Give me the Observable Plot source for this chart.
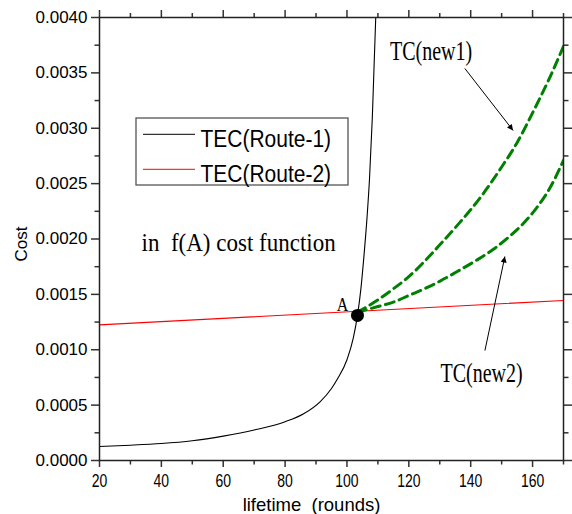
<!DOCTYPE html>
<html>
<head>
<meta charset="utf-8">
<script src="https://cdn.jsdelivr.net/npm/d3@7"></script>
<script src="https://cdn.jsdelivr.net/npm/@observablehq/plot@0.6"></script>
<style>
  html, body { margin: 0; padding: 0; background: #fff; }
  #chart svg text { white-space: pre; }
</style>
</head>
<body>
<div id="chart"></div>
<script>
// ---- data ----
const route1X = [20, 30, 40, 50, 60, 70, 80, 86, 91.3, 95, 97, 100, 102, 103.4, 104.5, 105.5, 106.5, 107.3, 108.2, 109.3];
const route1Y = [0.000127, 0.000138, 0.000153, 0.000178, 0.000220, 0.000275, 0.000350, 0.000422, 0.000530, 0.000650, 0.000740, 0.000910, 0.00110, 0.00131, 0.00155, 0.00185, 0.00220, 0.00255, 0.00310, 0.00400];

const route2X = [20, 170];
const route2Y = [0.001225, 0.001445];

const new1X = [103.4, 110, 115, 120, 125.8, 130.1, 136.5, 143, 150, 155, 160.2, 165.6, 170];
const new1Y = [0.00134, 0.00145, 0.00155, 0.00166, 0.00182, 0.00195, 0.00215, 0.00237, 0.00265, 0.00287, 0.00315, 0.00346, 0.00374];

const new2X = [103.4, 110, 115, 120, 125.8, 130.1, 136.5, 142, 147, 152, 157, 161, 165.6, 170];
const new2Y = [0.00134, 0.00139, 0.00143, 0.00149, 0.00156, 0.00162, 0.00172, 0.00181, 0.00190, 0.00201, 0.00214, 0.00227, 0.00246, 0.00271];

const pointA = {x: 103.4, y: 0.00131};

const annoText = ["in  f(A) cost function", "TC(new1)", "TC(new2)", "A"];
const annoX = [33.6, 127.2, 143.5, 98.6];
const annoY = [0.001896, 0.003612, 0.000707, 0.001348];

const arrowX1 = [138.1, 144.6];
const arrowY1 = [0.00354, 0.000993];
const arrowX2 = [153.7, 151.05];
const arrowY2 = [0.00298, 0.001842];

const xTicks = [20, 40, 60, 80, 100, 120, 140, 160];
const xMinorTicks = [30, 50, 70, 90, 110, 130, 150, 170];
const yTicks = [0, 0.0005, 0.001, 0.0015, 0.002, 0.0025, 0.003, 0.0035, 0.004];
const yMinorTicks = [0.00025, 0.00075, 0.00125, 0.00175, 0.00225, 0.00275, 0.00325, 0.00375];

const legendLabels = ["TEC(Route-1)", "TEC(Route-2)"];
const legendColors = ["#000000", "#ff0000"];

const xLabel = "lifetime  (rounds)";
const yLabel = "Cost";

// ---- build tables ----
const pts = (xs, ys) => xs.map((x, i) => ({x, y: ys[i]}));
const route1 = pts(route1X, route1Y);
const route2 = pts(route2X, route2Y);
const new1 = pts(new1X, new1Y);
const new2 = pts(new2X, new2Y);
const arrows = arrowX1.map((x, i) => ({x1: x, y1: arrowY1[i], x2: arrowX2[i], y2: arrowY2[i]}));
const anno = annoText.map((t, i) => ({t, x: annoX[i], y: annoY[i]}));

const SANS = "'Liberation Sans', Arial, sans-serif";
const SERIF = "'Liberation Serif', 'Times New Roman', serif";
const AX = "#333";

const blank = () => "";

const plot = Plot.plot({
  width: 572,
  height: 514,
  marginLeft: 99,
  marginRight: 9,
  marginTop: 17,
  marginBottom: 54,
  style: {fontFamily: SANS, background: "#fff", color: "#000", overflow: "visible"},
  x: {domain: [20, 170]},
  y: {domain: [0, 0.004]},
  marks: [
    // axes
    Plot.axisX({anchor: "bottom", ticks: xTicks, tickSize: 7, tickPadding: 6, fontSize: 14, label: null, stroke: AX, strokeWidth: 1.5, tickFormat: d => String(d)}),
    Plot.axisX({anchor: "bottom", ticks: xMinorTicks, tickSize: 4.5, label: null, stroke: AX, strokeWidth: 1.5, tickFormat: blank}),
    Plot.axisX({anchor: "top", ticks: xTicks, tickSize: 8, label: null, stroke: AX, strokeWidth: 1.5, tickFormat: blank}),
    Plot.axisX({anchor: "top", ticks: xMinorTicks, tickSize: 5, label: null, stroke: AX, strokeWidth: 1.5, tickFormat: blank}),
    Plot.axisY({anchor: "left", ticks: yTicks, tickSize: 8, tickPadding: 4, fontSize: 17, label: null, stroke: AX, strokeWidth: 1.5, tickFormat: d => d.toFixed(4)}),
    Plot.axisY({anchor: "left", ticks: yMinorTicks, tickSize: 4.5, label: null, stroke: AX, strokeWidth: 1.5, tickFormat: blank}),
    Plot.axisY({anchor: "right", ticks: yTicks, tickSize: 8, label: null, stroke: AX, strokeWidth: 1.5, tickFormat: blank}),
    Plot.axisY({anchor: "right", ticks: yMinorTicks, tickSize: 4.5, label: null, stroke: AX, strokeWidth: 1.5, tickFormat: blank}),
    // axis titles
    Plot.text([yLabel], {frameAnchor: "left", text: d => d, rotate: -90, dx: -77.5, dy: 22.5, fontSize: 17, fill: "#000"}),
    Plot.text([xLabel], {frameAnchor: "bottom", text: d => d, lineAnchor: "bottom", dx: -20, dy: 50.5, fontSize: 18.5, fill: "#000"}),
    // data
    Plot.line(route2, {x: "x", y: "y", stroke: "#ff0000", strokeWidth: 1.1}),
    Plot.line(route1, {x: "x", y: "y", stroke: "#000", strokeWidth: 1.1, curve: "monotone-x", clip: true}),
    Plot.line(new1, {x: "x", y: "y", stroke: "#008000", strokeWidth: 3, strokeDasharray: "9,5.5", curve: "monotone-x", clip: true}),
    Plot.line(new2, {x: "x", y: "y", stroke: "#008000", strokeWidth: 3, strokeDasharray: "9,5.5", curve: "monotone-x", clip: true}),
    Plot.dot([pointA], {x: "x", y: "y", r: 6.5, fill: "#000", stroke: "none"}),
    // annotations
    Plot.link(arrows, {x1: "x1", y1: "y1", x2: "x2", y2: "y2", stroke: "#000", strokeWidth: 1}),
    Plot.text(anno.slice(0, 1), {x: "x", y: "y", text: "t", textAnchor: "start", lineAnchor: "bottom", fontSize: 23, fontFamily: SERIF, fill: "#000"}),
    Plot.text(anno.slice(1, 3), {x: "x", y: "y", text: "t", textAnchor: "middle", lineAnchor: "bottom", fontSize: 20, fontFamily: SERIF, fill: "#000"}),
    Plot.text(anno.slice(3, 4), {x: "x", y: "y", text: "t", textAnchor: "middle", lineAnchor: "bottom", fontSize: 16, fontFamily: SERIF, fill: "#000"}),
    Plot.frame({stroke: "#222", strokeWidth: 1.5})
  ]
});

document.getElementById("chart").appendChild(plot);

const svg = d3.select(plot);

// filled arrowheads on the annotation links
const defs = svg.insert("defs", ":first-child");
defs.append("marker")
  .attr("id", "ahead")
  .attr("viewBox", "0 0 10 10")
  .attr("refX", 10).attr("refY", 5)
  .attr("markerWidth", 10).attr("markerHeight", 6)
  .attr("markerUnits", "userSpaceOnUse")
  .attr("orient", "auto")
  .append("path").attr("d", "M0,0L10,5L0,10Z").attr("fill", "#000").attr("stroke", "none");
svg.selectAll("g").filter(function() {
  return /link/.test(this.getAttribute("aria-label") || "");
}).selectAll("path, line").attr("marker-end", "url(#ahead)");

// vertical stretch of some texts to match the reference glyph proportions
const stretch = new Map([
  ["TC(new1)", 1.36], ["TC(new2)", 1.36], ["in  f(A) cost function", 1.13], ["A", 1.16]
]);
function stretchText(el, s) {
  const t = el.getAttribute("transform");
  if (t) el.setAttribute("transform", t + ` scale(1,${s})`);
  else {
    const x = parseFloat(el.getAttribute("x") || 0), y = parseFloat(el.getAttribute("y") || 0);
    el.setAttribute("transform", `translate(${x},${y}) scale(1,${s}) translate(${-x},${-y})`);
  }
}
svg.selectAll("text").each(function() {
  const s = stretch.get(this.textContent);
  if (s) stretchText(this, s);
});
svg.selectAll("g[aria-label='x-axis tick label'] text").each(function() {
  if (this.textContent) stretchText(this, 1.33);
});

// legend box (inside the plot area)
const lg = svg.append("g").attr("font-family", SANS).attr("text-anchor", "start");
lg.append("rect").attr("x", 136).attr("y", 118).attr("width", 212).attr("height", 67)
  .attr("fill", "#fff").attr("stroke", "#555").attr("stroke-width", 1.3);
legendLabels.forEach((lab, i) => {
  const ly = 134.3 + i * 35;
  lg.append("line").attr("x1", 143).attr("x2", 195).attr("y1", ly).attr("y2", ly)
    .attr("stroke", legendColors[i]).attr("stroke-width", 1);
  lg.append("text").attr("x", 200.5).attr("y", 0).attr("font-size", 21).attr("fill", "#000")
    .attr("text-anchor", "start")
    .attr("transform", `translate(0,${ly + 12.2}) scale(1,1.1)`).text(lab);
});
</script>
</body>
</html>
